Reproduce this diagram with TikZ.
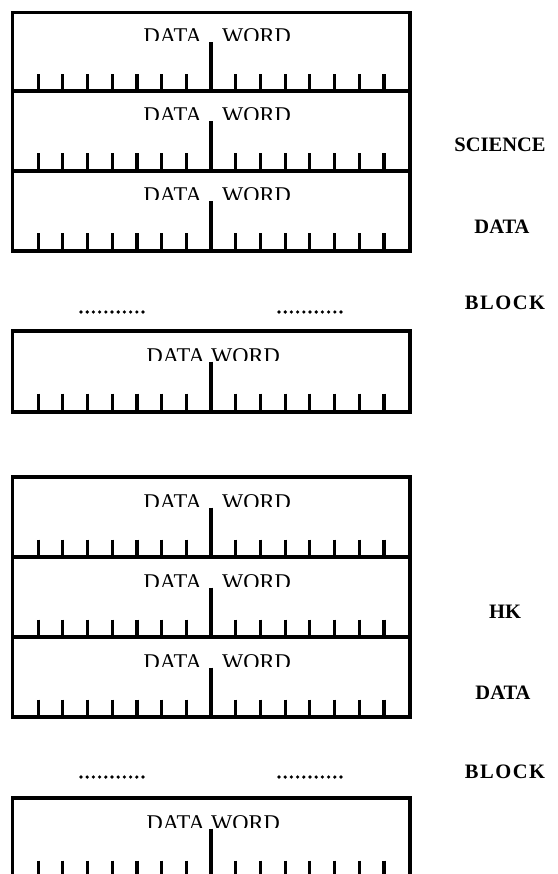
\documentclass[tikz,border=0pt]{standalone}
\usepackage{fontspec}
\setmainfont{Liberation Serif}
\tikzset{
  frame/.style={line width=3.3pt},
  tickline/.style={line width=3.2pt},
  wordtxt/.style={inner sep=0pt, font=\fontsize{22.5}{24}\selectfont},
  sidelbl/.style={inner sep=0pt, font=\bfseries\fontsize{20.5}{22}\selectfont},
  dotmark/.style={fill=black}
}
% #1 name prefix, #2 top y, #3 right x of DATA, #4 left x of WORD
\newcommand{\drow}[4]{%
  \begin{scope}
    \clip (0,-#2) rectangle (557,{-(#2+29)});
    \node[wordtxt, anchor=base east] (#1a) at (#3,{-(#2+32)}) {DATA};
    \node[wordtxt, anchor=base west] (#1b) at (#4,{-(#2+32)}) {WORD};
  \end{scope}
  \draw[tickline] (211,{-(#2+30.5)}) -- (211,{-(#2+80)});
  \foreach \k in {-7,...,-1,1,2,...,7}
    \draw[tickline] ({211+24.7*\k},{-(#2+62.5)}) -- ++(0,-17.5);
}
\newcommand{\dotrow}[2]{%
  \foreach \i in {0,...,10}
    \fill[dotmark] ({#1+6.2*\i},-#2) circle (1.8);
}
\begin{document}
\begin{tikzpicture}[x=1pt,y=1pt]
\useasboundingbox (0,0) rectangle (557,-874);
\fill[white] (0,0) rectangle (557,-874);
\clip (0,0) rectangle (557,-874);

% ---- science block ----
\draw[frame] (12.5,-12.5) rectangle (410,-251);
\draw[frame] (12.5,-91) -- (410,-91);
\draw[frame] (12.5,-171) -- (410,-171);
\drow{s1}{12}{202}{222}
\drow{s2}{91}{202}{222}
\drow{s3}{171}{202}{222}

\dotrow{81}{312}
\dotrow{279}{312}

\draw[frame] (12.5,-331) rectangle (410,-412);
\drow{s4}{331}{205}{211}

\node[sidelbl] (sci) at (500,-145) {SCIENCE};
\node[sidelbl] (sdata) at (502,-227) {DATA};
\node[sidelbl] (sblock) at (505,-303) {B\kern1.5pt L\kern1.5pt O\kern1.5pt C\kern1.5pt K};

% ---- HK block ----
\draw[frame] (12.5,-477) rectangle (410,-717);
\draw[frame] (12.5,-557) -- (410,-557);
\draw[frame] (12.5,-637) -- (410,-637);
\drow{h1}{477}{202}{222}
\drow{h2}{557}{202}{222}
\drow{h3}{637}{202}{222}

\dotrow{81}{777}
\dotrow{279}{777}

\draw[frame] (12.5,-890) -- (12.5,-798) -- (410,-798) -- (410,-890);
\drow{h4}{798}{205}{211}

\node[sidelbl] (hk) at (505,-612) {HK};
\node[sidelbl] (hdata) at (503,-693) {DATA};
\node[sidelbl] (hblock) at (505,-772) {B\kern1.5pt L\kern1.5pt O\kern1.5pt C\kern1.5pt K};
\end{tikzpicture}
\end{document}
